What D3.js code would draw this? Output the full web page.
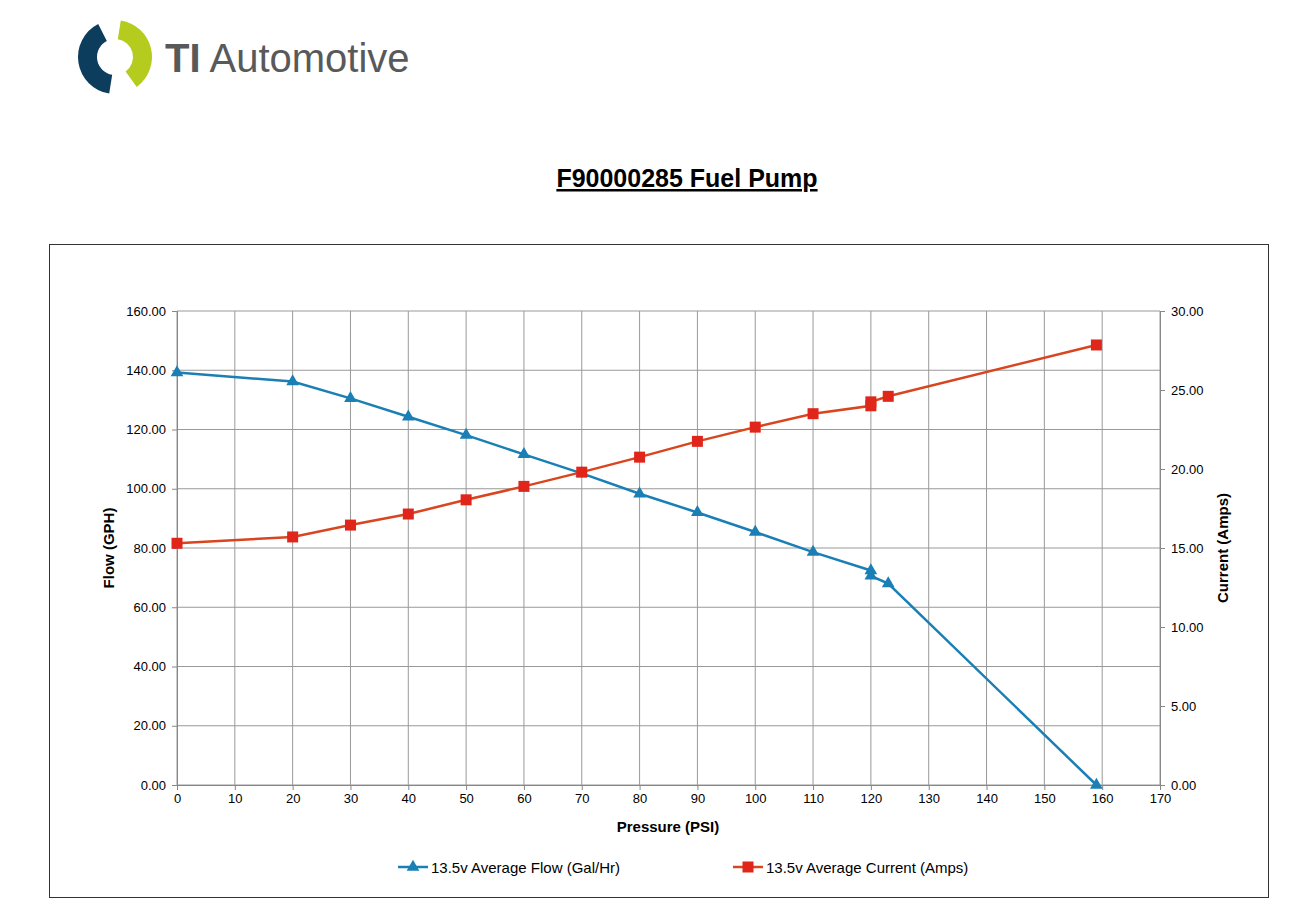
<!DOCTYPE html>
<html>
<head>
<meta charset="utf-8">
<script src="https://cdn.jsdelivr.net/npm/d3@7"></script>
<style>
  body { margin: 0; background: #fff; font-family: "Liberation Sans", Arial, sans-serif; }
</style>
</head>
<body>
<div id="chart-container"></div>
<script>
// data
const pressure = [0, 20, 30, 40, 50, 60, 70, 80, 90, 100, 110, 120, 120, 123, 159];
const flow = [139.2, 136.2, 130.5, 124.3, 118.1, 111.6, 105.2, 98.3, 92.0, 85.4, 78.6, 72.4, 70.6, 68.0, 0];
const current = [15.3, 15.7, 16.45, 17.15, 18.05, 18.9, 19.8, 20.75, 21.75, 22.65, 23.5, 24.0, 24.25, 24.6, 27.85];
const xTicks = d3.range(0, 171, 10);
const leftTicks = d3.range(0, 161, 20);
const rightTicks = d3.range(0, 31, 5);

const W = 1309, H = 901;
const plotL = 177, plotR = 1160, plotT = 311, plotB = 785;

const svg = d3.select("#chart-container").append("svg")
  .attr("width", W).attr("height", H);

// logo
const logo = svg.append("g").attr("transform", "translate(115,57)");
const arc = d3.arc();
logo.append("path")
  .attr("d", arc({ innerRadius: 18, outerRadius: 37, startAngle: Math.PI * 1.05, endAngle: Math.PI * 1.85 }))
  .attr("fill", "#0d3d5c");
logo.append("path")
  .attr("d", arc({ innerRadius: 18, outerRadius: 37, startAngle: Math.PI * 0.05, endAngle: Math.PI * 0.8 }))
  .attr("fill", "#b5cc1e");
svg.append("text").attr("x", 165).attr("y", 72)
  .attr("font-family", "Liberation Sans").attr("font-size", 40).attr("fill", "#58595b")
  .html('<tspan font-weight="bold">TI</tspan> Automotive');

// title
svg.append("text").attr("x", 687).attr("y", 187).attr("text-anchor", "middle")
  .attr("font-size", 25).attr("font-weight", "bold").attr("text-decoration", "underline")
  .text("F90000285 Fuel Pump");

// frame
svg.append("rect").attr("x", 49.5).attr("y", 244.5).attr("width", 1219).attr("height", 653)
  .attr("fill", "none").attr("stroke", "#333");

const x = d3.scaleLinear().domain([0, 170]).range([plotL, plotR]);
const y = d3.scaleLinear().domain([0, 160]).range([plotB, plotT]);
const y2 = d3.scaleLinear().domain([0, 30]).range([plotB, plotT]);

// grid
svg.append("g").selectAll("line").data(xTicks).join("line")
  .attr("x1", d => x(d)).attr("x2", d => x(d)).attr("y1", plotT).attr("y2", plotB)
  .attr("stroke", "#999").attr("stroke-width", 1);
svg.append("g").selectAll("line").data(leftTicks).join("line")
  .attr("x1", plotL).attr("x2", plotR).attr("y1", d => y(d)).attr("y2", d => y(d))
  .attr("stroke", "#999").attr("stroke-width", 1);

// axes
const ax = svg.append("g").attr("transform", "translate(0," + plotB + ")")
  .call(d3.axisBottom(x).tickValues(xTicks).tickSize(5).tickPadding(4));
const ay = svg.append("g").attr("transform", "translate(" + plotL + ",0)")
  .call(d3.axisLeft(y).tickValues(leftTicks).tickFormat(d3.format(".2f")).tickSize(5).tickPadding(6));
const ay2 = svg.append("g").attr("transform", "translate(" + plotR + ",0)")
  .call(d3.axisRight(y2).tickValues(rightTicks).tickFormat(d3.format(".2f")).tickSize(5).tickPadding(6));
[ax, ay, ay2].forEach(g => {
  g.selectAll("path,line").attr("stroke", "#888");
  g.selectAll("text").attr("font-size", 13).attr("fill", "#000").attr("font-family", "Liberation Sans");
});

// axis titles
svg.append("text").attr("x", 668).attr("y", 832).attr("text-anchor", "middle")
  .attr("font-size", 15).attr("font-weight", "bold").text("Pressure (PSI)");
svg.append("text").attr("transform", "translate(114,548) rotate(-90)").attr("text-anchor", "middle")
  .attr("font-size", 15).attr("font-weight", "bold").text("Flow (GPH)");
svg.append("text").attr("transform", "translate(1228,548) rotate(-90)").attr("text-anchor", "middle")
  .attr("font-size", 15).attr("font-weight", "bold").text("Current (Amps)");

const blue = "#1a7fb5", red = "#e0261b";

// flow line
svg.append("path").datum(pressure)
  .attr("d", d3.line().x(d => x(d)).y((d, i) => y(flow[i])))
  .attr("fill", "none").attr("stroke", blue).attr("stroke-width", 2.5);
const tri = d3.symbol().type(d3.symbolTriangle).size(70);
svg.append("g").selectAll("path").data(pressure).join("path")
  .attr("d", tri).attr("transform", (d, i) => "translate(" + x(d) + "," + y(flow[i]) + ")")
  .attr("fill", blue);

// current line
svg.append("path").datum(pressure)
  .attr("d", d3.line().x(d => x(d)).y((d, i) => y2(current[i])))
  .attr("fill", "none").attr("stroke", "#d8451e").attr("stroke-width", 2.5);
svg.append("g").selectAll("rect").data(pressure).join("rect")
  .attr("x", d => x(d) - 5.5).attr("y", (d, i) => y2(current[i]) - 5.5)
  .attr("width", 11).attr("height", 11).attr("fill", red);

// legend
const leg = svg.append("g");
leg.append("line").attr("x1", 398).attr("x2", 428).attr("y1", 867).attr("y2", 867).attr("stroke", blue).attr("stroke-width", 2.5);
leg.append("path").attr("d", tri).attr("transform", "translate(413,867)").attr("fill", blue);
leg.append("text").attr("x", 431).attr("y", 873).attr("font-size", 15).text("13.5v Average Flow (Gal/Hr)");
leg.append("line").attr("x1", 733).attr("x2", 763).attr("y1", 867).attr("y2", 867).attr("stroke", "#d8451e").attr("stroke-width", 2.5);
leg.append("rect").attr("x", 742.5).attr("y", 861.5).attr("width", 11).attr("height", 11).attr("fill", red);
leg.append("text").attr("x", 766).attr("y", 873).attr("font-size", 15).text("13.5v Average Current (Amps)");
</script>
</body>
</html>
